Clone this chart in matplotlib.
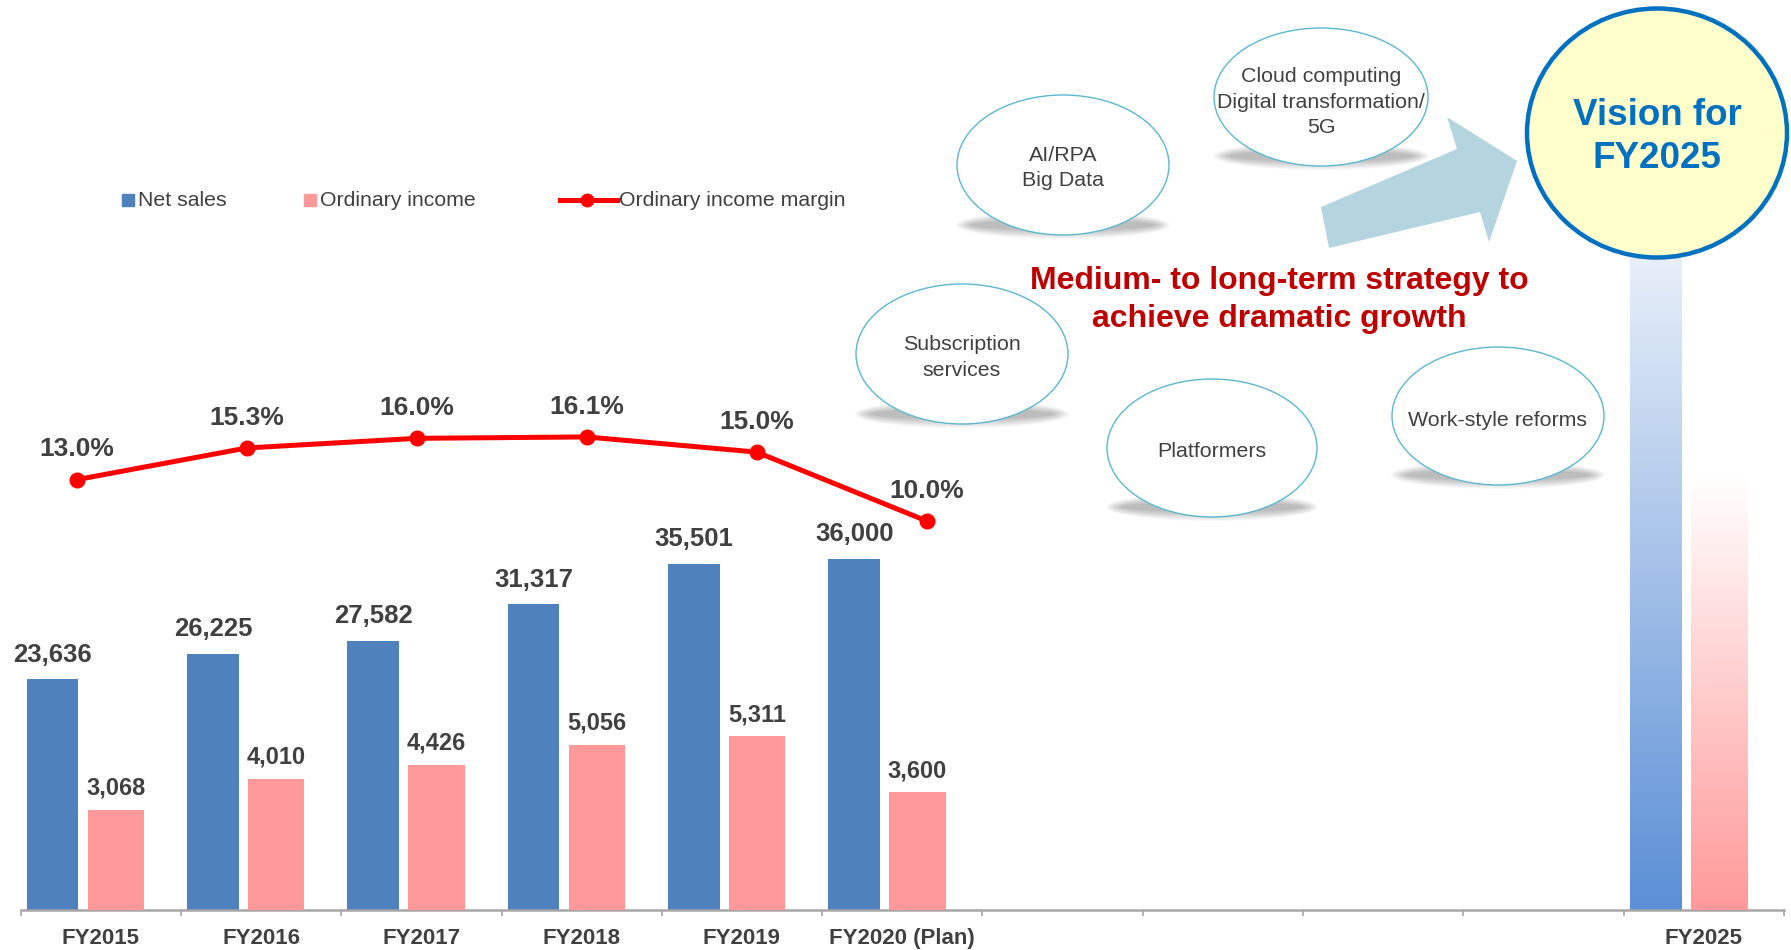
import numpy as np
import matplotlib
matplotlib.use("Agg")
import matplotlib.pyplot as plt
from matplotlib.patches import Ellipse, Rectangle, Polygon
from matplotlib.colors import LinearSegmentedColormap
from matplotlib.lines import Line2D

plt.rcParams['font.family'] = ['Liberation Sans', 'DejaVu Sans']

# ---------------- data ----------------
categories = ["FY2015", "FY2016", "FY2017", "FY2018", "FY2019", "FY2020 (Plan)",
              "", "", "", "", "FY2025"]
net_sales = [23636, 26225, 27582, 31317, 35501, 36000]
ordinary_income = [3068, 4010, 4426, 5056, 5311, 3600]
margin = [13.0, 15.3, 16.0, 16.1, 15.0, 10.0]
vision_net_sales = 78000        # unlabelled gradient bar (FY2025)
vision_ordinary_income = 13300  # unlabelled gradient bar (FY2025)

legend_labels = ["Net sales", "Ordinary income", "Ordinary income margin"]
bubble_texts = [["AI/RPA", "Big Data"],
                ["Cloud computing", "Digital transformation/", "5G"],
                ["Subscription", "services"],
                ["Platformers"],
                ["Work-style reforms"]]
strategy_text = ["Medium- to long-term strategy to", "achieve dramatic growth"]
vision_text = ["Vision for", "FY2025"]

# ---------------- styles ----------------
BLUE = "#4F81BD"
PINK = "#FF9999"
RED = "#FF0000"
TXT = "#404040"

W, H = 1791, 950
fig = plt.figure(figsize=(W / 100, H / 100), dpi=100)

left_px, right_px, base_px = 20.6, 1784.0, 910.0
pos = [left_px / W, (H - base_px) / H, (right_px - left_px) / W, base_px / H]

ax1 = fig.add_axes(pos)
ax2 = ax1.twinx()
ax3 = fig.add_axes(pos, frameon=False)
ov = fig.add_axes([0, 0, 1, 1], frameon=False)
ax3.set_zorder(5)
ov.set_zorder(10)
for a in (ax3, ov):
    a.patch.set_alpha(0)

x = np.arange(len(categories))
n = len(net_sales)
ns_off, ns_w = -0.300, 0.322
oi_off, oi_w = 0.095, 0.351

# net sales bars
ax1.bar(x[:n] + ns_off, net_sales, ns_w, color=BLUE, zorder=2)
for xi, v in zip(x[:n] + ns_off, net_sales):
    ax1.annotate(f"{v:,}", (xi, v), xytext=(0, 12.7), textcoords="offset points",
                 ha="center", va="baseline", fontsize=18.5, fontweight="bold", color=TXT)

# ordinary income bars
ax2.bar(x[:n] + oi_off, ordinary_income, oi_w, color=PINK, zorder=2)
for xi, v in zip(x[:n] + oi_off, ordinary_income):
    ax2.annotate(f"{v:,}", (xi, v), xytext=(0, 11.0), textcoords="offset points",
                 ha="center", va="baseline", fontsize=17, fontweight="bold", color=TXT)


def gradient_bar(ax, xc, w, h, color):
    bar = ax.bar(xc, h, w, color="none", edgecolor="none")[0]
    cmap = LinearSegmentedColormap.from_list("g", ["white", color])
    grad = np.linspace(1, 0, 256).reshape(-1, 1)
    im = ax.imshow(grad, extent=[xc - w / 2, xc + w / 2, 0, h], origin="lower",
                   cmap=cmap, aspect="auto", zorder=2, interpolation="bilinear")
    im.set_clip_path(bar)


gradient_bar(ax1, x[-1] + ns_off, ns_w, vision_net_sales, "#5B8FD6")
gradient_bar(ax2, x[-1] + oi_off, oi_w, vision_ordinary_income, PINK)

ax1.set_xlim(-0.5, len(categories) - 0.5)
ax1.set_ylim(0, base_px / 0.00976)
ax2.set_ylim(0, base_px / 0.0327)

ax1.set_xticks(x)
ax1.set_xticklabels(categories, fontsize=16, fontweight="bold", color=TXT)
ax1.set_xticks(np.arange(-0.5, len(categories), 1.0), minor=True)
ax1.tick_params(axis="x", which="major", length=0, pad=13.2)
ax1.tick_params(axis="x", which="minor", length=4.5, width=1.2, color="#A6A6A6")
ax1.set_yticks([])
ax2.set_yticks([])
for a in (ax1, ax2):
    for s in ("left", "right", "top"):
        a.spines[s].set_visible(False)
ax2.spines["bottom"].set_visible(False)
ax1.spines["bottom"].set_color("#A6A6A6")
ax1.spines["bottom"].set_linewidth(1.8)

# margin line (own x scale)
mx = np.arange(len(margin))
ax3.plot(mx, margin, color=RED, lw=3.6, marker="o", ms=10.5, zorder=3,
         solid_capstyle="round")
for xi, v in zip(mx, margin):
    ax3.annotate(f"{v:.1f}%", (xi, v), xytext=(0, 16.8), textcoords="offset points",
                 ha="center", va="baseline", fontsize=19, fontweight="bold", color=TXT)
ax3.set_xlim((left_px - 76.7) / 170.0, (right_px - 76.7) / 170.0)
ax3.set_ylim(-251.2 / 13.78, (base_px - 251.2) / 13.78)
ax3.axis("off")

# ---------------- overlay (pixel coordinates, y down) ----------------
ov.set_xlim(0, W)
ov.set_ylim(H, 0)
ov.axis("off")

# legend
ov.add_patch(Rectangle((122.3, 194), 11.5, 11.5, color=BLUE))
ov.text(137.5, 206, legend_labels[0], fontsize=15.3, color=TXT, va="baseline")
ov.add_patch(Rectangle((304.3, 194), 11.5, 11.5, color=PINK))
ov.text(320.5, 206, legend_labels[1], fontsize=15.3, color=TXT, va="baseline")
ov.add_line(Line2D([560, 617], [199.5, 199.5], color=RED, lw=3.6))
ov.plot([587], [199.5], marker="o", ms=9, color=RED)
ov.text(619, 206, legend_labels[2], fontsize=15.3, color=TXT, va="baseline")

# bubbles
bubbles = [(1063, 165, 106, 70), (1321, 97, 107, 69), (962, 354, 106, 70),
           (1212, 448, 105, 69), (1498, 416, 106, 69)]
text_shift = [3.0, 5.0, 3.5, 3.5, 4.5]
for (cx, cy, rx, ry), lines, sh in zip(bubbles, bubble_texts, text_shift):
    for k in range(10):
        ov.add_patch(Ellipse((cx, cy + ry - 10), 2 * rx * 0.86 + k * 3.5, 10 + k * 2.0,
                             color="black", alpha=0.028, lw=0, zorder=1))
    ov.add_patch(Ellipse((cx, cy), 2 * rx, 2 * ry, facecolor="white",
                         edgecolor="#5BB8CF", lw=1.0, zorder=2))
    m = len(lines)
    for j, t in enumerate(lines):
        ov.text(cx, cy + sh + (j - (m - 1) / 2) * 25.5, t, fontsize=15.4, color=TXT,
                ha="center", va="center", zorder=3)

# arrow
arrow_pts = [(1329, 248), (1321, 207), (1457, 149), (1447, 117), (1517, 161),
             (1489, 242), (1480, 212)]
ov.add_patch(Polygon(arrow_pts, closed=True, color="#B4D5E0", lw=0, zorder=2))

# strategy text
ov.text(1279, 280.6, strategy_text[0], fontsize=23, fontweight="bold",
        color="#C00000", ha="center", va="center", zorder=4)
ov.text(1279, 318.5, strategy_text[1], fontsize=23, fontweight="bold",
        color="#C00000", ha="center", va="center", zorder=4)

# vision circle
ov.add_patch(Ellipse((1657, 133), 260, 249, facecolor="#FFFFCC",
                     edgecolor="#0070C0", lw=3.2, zorder=5))
ov.text(1657, 115.5, vision_text[0], fontsize=26.5, fontweight="bold",
        color="#0070C0", ha="center", va="center", zorder=6)
ov.text(1657, 158.5, vision_text[1], fontsize=26.5, fontweight="bold",
        color="#0070C0", ha="center", va="center", zorder=6)

fig.savefig("out.png", dpi=100)
